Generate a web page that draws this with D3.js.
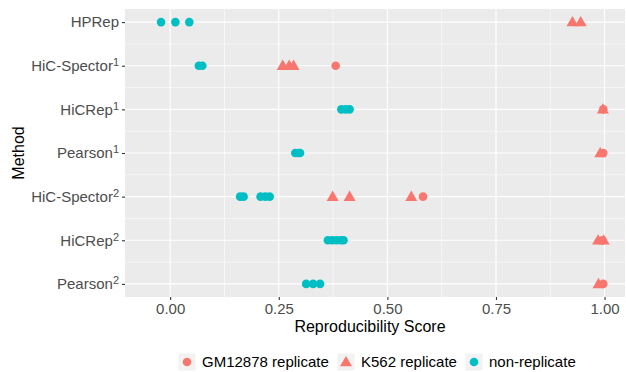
<!DOCTYPE html>
<html>
<head>
<meta charset="utf-8">
<script src="https://cdn.jsdelivr.net/npm/d3@7"></script>
<style>
  body { margin: 0; background: #fff; }
  text { font-family: "Liberation Sans", Arial, sans-serif; }
</style>
</head>
<body>
<div id="chart"></div>
<script>
// methods, top to bottom; trailing digit becomes a superscript
const methods = ['HPRep', 'HiC-Spector1', 'HiCRep1', 'Pearson1', 'HiC-Spector2', 'HiCRep2', 'Pearson2'];
const xTicks = [0, 0.25, 0.5, 0.75, 1];
const groups = ['GM12878 replicate', 'K562 replicate', 'non-replicate'];
const groupColors = ['#F8766D', '#F8766D', '#00BFC4'];

// scores: [method, score]
const gmScores = [
    ['HiC-Spector1', 0.381], ['HiCRep1', 0.997], ['Pearson1', 0.997],
    ['HiC-Spector2', 0.582], ['HiCRep2', 0.995], ['Pearson2', 0.997]
];
const k562Scores = [
    ['HPRep', 0.926], ['HPRep', 0.945],
    ['HiC-Spector1', 0.259], ['HiC-Spector1', 0.274], ['HiC-Spector1', 0.284],
    ['HiCRep1', 0.996], ['Pearson1', 0.990],
    ['HiC-Spector2', 0.374], ['HiC-Spector2', 0.413], ['HiC-Spector2', 0.555],
    ['HiCRep2', 0.985], ['HiCRep2', 0.998], ['Pearson2', 0.986]
];
const nonRepScores = [
    ['HPRep', -0.021], ['HPRep', 0.012], ['HPRep', 0.044],
    ['HiC-Spector1', 0.066], ['HiC-Spector1', 0.074],
    ['HiCRep1', 0.394], ['HiCRep1', 0.404], ['HiCRep1', 0.413],
    ['Pearson1', 0.288], ['Pearson1', 0.294], ['Pearson1', 0.299],
    ['HiC-Spector2', 0.161], ['HiC-Spector2', 0.169],
    ['HiC-Spector2', 0.208], ['HiC-Spector2', 0.219], ['HiC-Spector2', 0.229],
    ['HiCRep2', 0.363], ['HiCRep2', 0.373], ['HiCRep2', 0.383], ['HiCRep2', 0.393], ['HiCRep2', 0.399],
    ['Pearson2', 0.313], ['Pearson2', 0.329], ['Pearson2', 0.345]
];

const width = 626, height = 372;
const panel = { left: 125, right: 625, top: 9, bottom: 297 };

const svg = d3.select('#chart').append('svg')
    .attr('width', width)
    .attr('height', height);

const x = d3.scaleLinear()
    .domain([-0.104, 1.047])
    .range([panel.left, panel.right]);

const y = d3.scalePoint()
    .domain(methods)
    .range([panel.top, panel.bottom])
    .padding(0.3);

// panel background
svg.append('rect')
    .attr('x', panel.left).attr('y', panel.top)
    .attr('width', panel.right - panel.left)
    .attr('height', panel.bottom - panel.top)
    .attr('fill', '#EBEBEB');

const grid = svg.append('g');
// minor grid
const minorX = xTicks.slice(0, -1).map(t => t + 0.125);
grid.selectAll('line.minx').data(minorX).join('line')
    .attr('x1', d => x(d)).attr('x2', d => x(d))
    .attr('y1', panel.top).attr('y2', panel.bottom)
    .attr('stroke', '#fff').attr('stroke-width', 0.55);
const minorY = methods.slice(0, -1).map((m, i) => (y(m) + y(methods[i + 1])) / 2);
grid.selectAll('line.miny').data(minorY).join('line')
    .attr('x1', panel.left).attr('x2', panel.right)
    .attr('y1', d => d).attr('y2', d => d)
    .attr('stroke', '#fff').attr('stroke-width', 0.55);
// major grid
grid.selectAll('line.majx').data(xTicks).join('line')
    .attr('x1', d => x(d)).attr('x2', d => x(d))
    .attr('y1', panel.top).attr('y2', panel.bottom)
    .attr('stroke', '#fff').attr('stroke-width', 1.1);
grid.selectAll('line.majy').data(methods).join('line')
    .attr('x1', panel.left).attr('x2', panel.right)
    .attr('y1', d => y(d)).attr('y2', d => y(d))
    .attr('stroke', '#fff').attr('stroke-width', 1.1);

// points
const triangle = d3.symbol().type(d3.symbolTriangle).size(62);
const pts = svg.append('g');
pts.selectAll('path.k562').data(k562Scores).join('path')
    .attr('transform', d => `translate(${x(d[1])},${y(d[0]) + 0.8})`)
    .attr('d', triangle)
    .attr('fill', groupColors[1]);
pts.selectAll('circle.gm').data(gmScores).join('circle')
    .attr('cx', d => x(d[1])).attr('cy', d => y(d[0]))
    .attr('r', 4.3)
    .attr('fill', groupColors[0]);
pts.selectAll('circle.non').data(nonRepScores).join('circle')
    .attr('cx', d => x(d[1])).attr('cy', d => y(d[0]))
    .attr('r', 4.3)
    .attr('fill', groupColors[2]);

// x axis
const xAxis = svg.append('g')
    .attr('transform', `translate(0,${panel.bottom})`)
    .call(d3.axisBottom(x).tickValues(xTicks).tickFormat(d3.format('.2f')).tickSize(3).tickPadding(3));
xAxis.select('.domain').remove();
xAxis.selectAll('line').attr('stroke', '#333').attr('stroke-width', 1.1);
xAxis.selectAll('text')
    .attr('fill', '#4D4D4D').style('font-size', '15px')
    .style('font-family', '"Liberation Sans", Arial, sans-serif');

// y axis
const yAxis = svg.append('g')
    .attr('transform', `translate(${panel.left},0)`)
    .call(d3.axisLeft(y).tickSize(3).tickPadding(3).tickFormat(''));
yAxis.select('.domain').remove();
yAxis.selectAll('line').attr('stroke', '#333').attr('stroke-width', 1.1);
yAxis.selectAll('.tick text').each(function (d) {
    const base = d.replace(/\d$/, '');
    const sup = d.slice(base.length);
    const t = d3.select(this)
        .attr('fill', '#4D4D4D')
        .style('font-size', '15px')
        .style('font-family', '"Liberation Sans", Arial, sans-serif')
        .attr('dy', '0.32em')
        .attr('x', -6);
    t.text(base);
    if (sup) {
        t.append('tspan').attr('dy', '-0.45em').style('font-size', '11px').text(sup);
    }
});

// axis titles
svg.append('text')
    .attr('x', (panel.left + panel.right) / 2 - 5)
    .attr('y', 332)
    .attr('text-anchor', 'middle')
    .style('font-size', '16px')
    .attr('fill', '#000')
    .text('Reproducibility Score');
svg.append('text')
    .attr('transform', `translate(24,${(panel.top + panel.bottom) / 2}) rotate(-90)`)
    .attr('text-anchor', 'middle')
    .style('font-size', '16px')
    .attr('fill', '#000')
    .text('Method');

// legend
const legendX = [187, 346, 474];
const legend = svg.append('g').attr('transform', 'translate(0,362)');
const items = legend.selectAll('g').data(groups).join('g')
    .attr('transform', (d, i) => `translate(${legendX[i]},0)`);
items.append('rect')
    .attr('x', -8.5).attr('y', -8.5).attr('width', 17).attr('height', 17)
    .attr('fill', '#F2F2F2');
items.each(function (d, i) {
    const g = d3.select(this);
    if (i === 1) {
        g.append('path').attr('d', triangle).attr('transform', 'translate(0,0.8)').attr('fill', groupColors[i]);
    } else {
        g.append('circle').attr('r', 4.3).attr('fill', groupColors[i]);
    }
});
items.append('text')
    .attr('x', 15).attr('dy', '0.35em')
    .style('font-size', '15px')
    .attr('fill', '#000')
    .text(d => d);
</script>
</body>
</html>
